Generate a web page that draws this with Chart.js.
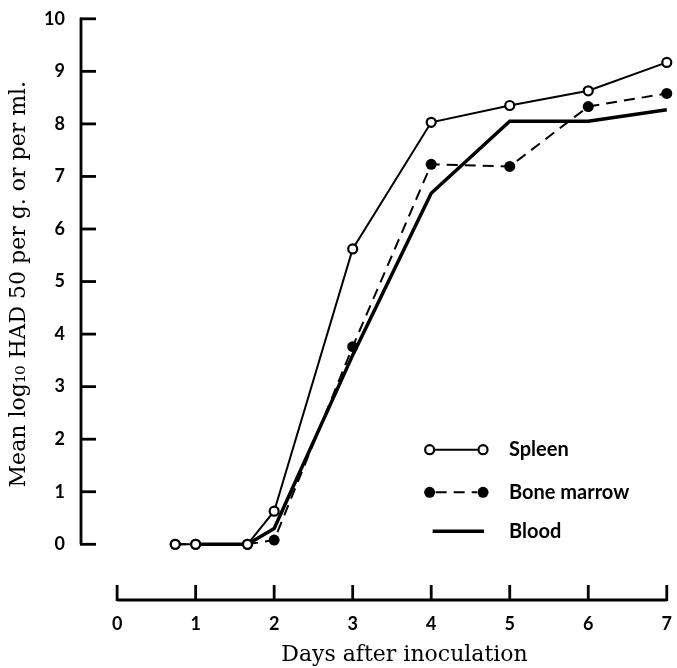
<!DOCTYPE html>
<html>
<head>
<meta charset="utf-8">
<script src="https://cdn.jsdelivr.net/npm/chart.js@4"></script>
<style>
  html, body { margin: 0; padding: 0; background: #fff; }
  #wrap { width: 677px; height: 668px; }
</style>
</head>
<body>
<div id="wrap"><canvas id="hadChart" width="677" height="668"></canvas></div>
<script>
// values
const spleenDays = [0.74, 1, 1.66, 2, 3, 4, 5, 6, 7];
const spleenValues = [0, 0, 0, 0.63, 5.62, 8.03, 8.35, 8.63, 9.17];
const marrowDays = [0.74, 1, 1.66, 2, 3, 4, 5, 6, 7];
const marrowValues = [0, 0, 0, 0.08, 3.76, 7.23, 7.19, 8.33, 8.58];
const bloodDays = [1, 1.66, 2, 3, 4, 5, 6, 7];
const bloodValues = [0, 0, 0.3, 3.6, 6.68, 8.05, 8.05, 8.27];
const xTicks = [0, 1, 2, 3, 4, 5, 6, 7];
const yTicks = [0, 1, 2, 3, 4, 5, 6, 7, 8, 9, 10];
const legendLabels = ["Spleen", "Bone marrow", "Blood"];
const xTitle = "Days after inoculation";
const yTitle = "Mean log\u2081\u2080 HAD 50 per g. or per ml.";

const tickFont = { family: "Lato", size: 18, weight: "bold" };

function toPoints(xs, ys) {
  return xs.map((x, i) => ({ x: x, y: ys[i] }));
}

// detached axes, titles and the legend are drawn here
const paperAxes = {
  id: "paperAxes",
  afterDatasetsDraw(chart) {
    let ctx = chart.ctx;
    let xs = chart.scales.x;
    let ys = chart.scales.y;
    let left = chart.chartArea.left;
    let bottom = chart.chartArea.bottom;
    ctx.save();
    ctx.strokeStyle = "#000";
    ctx.lineWidth = 2.8;
    ctx.lineCap = "butt";
    // y axis
    ctx.beginPath();
    ctx.moveTo(left, ys.getPixelForValue(10) - 1);
    ctx.lineTo(left, ys.getPixelForValue(0));
    ctx.stroke();
    yTicks.forEach((v) => {
      let py = ys.getPixelForValue(v);
      ctx.beginPath();
      ctx.moveTo(left - 1, py);
      ctx.lineTo(left + 15, py);
      ctx.stroke();
    });
    // x axis
    ctx.beginPath();
    ctx.moveTo(xs.getPixelForValue(0), bottom);
    ctx.lineTo(xs.getPixelForValue(7), bottom);
    ctx.stroke();
    xTicks.forEach((v) => {
      let px = xs.getPixelForValue(v);
      ctx.beginPath();
      ctx.moveTo(px, bottom + 1);
      ctx.lineTo(px, bottom - 15);
      ctx.stroke();
    });

    // axis titles
    ctx.fillStyle = "#000";
    ctx.font = "22px 'DejaVu Serif'";
    ctx.textAlign = "center";
    ctx.textBaseline = "middle";
    ctx.fillText(xTitle, xs.getPixelForValue(3.66), 655);
    ctx.save();
    ctx.translate(19, ys.getPixelForValue(4.95));
    ctx.rotate(-Math.PI / 2);
    ctx.fillText(yTitle, 0, 0);
    ctx.restore();

    // legend
    let x1 = xs.getPixelForValue(3.98);
    let x2 = xs.getPixelForValue(4.66);
    let xt = xs.getPixelForValue(4.99);
    let rows = [1.8, 0.99, 0.25].map((v) => ys.getPixelForValue(v));
    ctx.font = "bold 20px Lato";
    ctx.textBaseline = "middle";
    ctx.textAlign = "left";
    legendLabels.forEach((lab, i) => {
      let y = rows[i];
      ctx.beginPath();
      if (i === 0) {
        ctx.lineWidth = 2;
        ctx.setLineDash([]);
        ctx.moveTo(x1, y); ctx.lineTo(x2, y);
      } else if (i === 1) {
        ctx.lineWidth = 2;
        ctx.setLineDash([11, 7]);
        ctx.moveTo(x1 + 6, y); ctx.lineTo(x2 - 6, y);
      } else {
        ctx.lineWidth = 3.5;
        ctx.setLineDash([]);
        ctx.moveTo(x1 + 3, y); ctx.lineTo(x2 + 1, y);
      }
      ctx.stroke();
      ctx.setLineDash([]);
      if (i === 0) {
        [x1, x2].forEach((px) => {
          ctx.beginPath();
          ctx.arc(px, y, 4.5, 0, Math.PI * 2);
          ctx.fillStyle = "#fff";
          ctx.fill();
          ctx.lineWidth = 2.2;
          ctx.stroke();
        });
      } else if (i === 1) {
        [x1, x2].forEach((px) => {
          ctx.beginPath();
          ctx.arc(px, y, 5.5, 0, Math.PI * 2);
          ctx.fillStyle = "#000";
          ctx.fill();
        });
      }
      ctx.fillStyle = "#000";
      ctx.fillText(lab, xt, y);
    });
    ctx.restore();
  }
};

let ctx = document.getElementById("hadChart").getContext("2d");
let hadChart = new Chart(ctx, {
  type: "scatter",
  data: {
    datasets: [{
      label: legendLabels[0],
      data: toPoints(spleenDays, spleenValues),
      showLine: true,
      borderColor: "#000",
      borderWidth: 2,
      pointRadius: 4.5,
      pointBorderWidth: 2.2,
      pointBackgroundColor: "#fff",
      pointBorderColor: "#000",
      clip: false,
    }, {
      label: legendLabels[1],
      data: toPoints(marrowDays, marrowValues),
      showLine: true,
      borderColor: "#000",
      borderWidth: 2,
      borderDash: [11, 7],
      pointRadius: 5.5,
      pointBorderWidth: 0,
      pointBackgroundColor: "#000",
      clip: false,
    }, {
      label: legendLabels[2],
      data: toPoints(bloodDays, bloodValues),
      showLine: true,
      borderColor: "#000",
      borderWidth: 3.5,
      pointRadius: 0,
      clip: false,
    }],
  },
  options: {
    responsive: false,
    animation: false,
    layout: { padding: { top: 18, right: 6, left: 0, bottom: 0 } },
    plugins: {
      legend: { display: false },
      tooltip: { enabled: false },
    },
    scales: {
      x: {
        type: "linear",
        min: -0.46,
        max: 7,
        grid: { display: false },
        border: { display: false },
        afterBuildTicks: (axis) => { axis.ticks = xTicks.map((v) => ({ value: v })); },
        afterFit: (axis) => { axis.height = 68; },
        ticks: { color: "#000", font: tickFont, padding: 5, maxRotation: 0 },
      },
      y: {
        type: "linear",
        min: -1.06,
        max: 10,
        grid: { display: false },
        border: { display: false },
        afterBuildTicks: (axis) => { axis.ticks = yTicks.map((v) => ({ value: v })); },
        afterFit: (axis) => { axis.width = 81; },
        ticks: { color: "#000", font: tickFont, padding: 8 },
      },
    },
  },
  plugins: [paperAxes],
});
</script>
</body>
</html>
